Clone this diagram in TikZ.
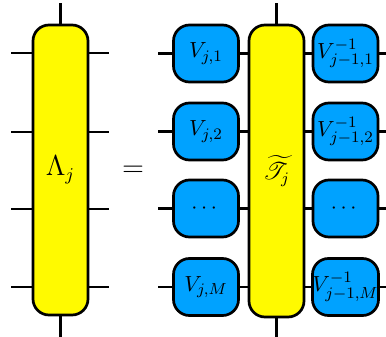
\documentclass[tikz,border=0pt]{standalone}
\usepackage{amsmath}
\usepackage{mathrsfs}
\definecolor{tyellow}{RGB}{255,250,0}
\definecolor{tblue}{RGB}{0,162,255}
\begin{document}
\begin{tikzpicture}[x=0.5pt,y=-0.5pt,
  every node/.style={font=\fontsize{11}{13}\selectfont},
  leg/.style={line width=1.35pt},
  bigbox/.style={draw,line width=1.35pt,fill=tyellow,rounded corners=8pt,minimum width=27.5pt,minimum height=145pt,inner sep=0pt},
  vbox/.style={draw,line width=1.35pt,fill=tblue,rounded corners=8pt,minimum width=32.5pt,minimum height=28.5pt,inner sep=0pt}]
\useasboundingbox (0,0) rectangle (386,337);
% left tensor
\node[bigbox,font=\fontsize{13.5}{15}\selectfont] (L) at (60.5,170) {$\Lambda_j$};
\coordinate (Lt) at (60.5,3);
\coordinate (Lb) at (60.5,337);
\draw[leg] (Lt) -- (L.north);
\draw[leg] (L.south) -- (Lb);
\foreach \y [count=\i] in {53,132,209,287}{
  \coordinate (La\i) at (11,\y);
  \coordinate (Lc\i) at (109,\y);
  \draw[leg] (La\i) -- (L.west |- La\i);
  \draw[leg] (L.east |- Lc\i) -- (Lc\i);
}
\node[font=\fontsize{14}{16}\selectfont] (eq) at (133,171) {$=$};
% right side
\node[bigbox,minimum height=146pt,font=\fontsize{12}{14}\selectfont] (T) at (276.5,171) {$\widetilde{\mathscr{T}}_j$};
\coordinate (Tt) at (276.5,3);
\coordinate (Tb) at (276.5,337);
\draw[leg] (Tt) -- (T.north);
\draw[leg] (T.south) -- (Tb);
\node[vbox] (A1) at (206,53.5) {$V_{j,1}$};
\node[vbox] (A2) at (206,131.5) {$V_{j,2}$};
\node[vbox] (A3) at (206,208.5) {$\cdots$};
\node[vbox] (A4) at (206,287) {$V_{j,M}$};
\node[vbox] (B1) at (345.5,53.5) {$V^{-1}_{j-1,1}$};
\node[vbox] (B2) at (345.5,131.5) {$V^{-1}_{j-1,2}$};
\node[vbox] (B3) at (345.5,208.5) {$\cdots$};
\node[vbox] (B4) at (345.5,287) {$V^{-1}_{j-1,M}$};
\foreach \i in {1,2,3,4}{
  \coordinate (Aa\i) at (158,0 |- A\i);
  \coordinate (Bb\i) at (386,0 |- B\i);
  \draw[leg] (Aa\i) -- (A\i.west);
  \draw[leg] (A\i.east) -- (T.west |- A\i);
  \draw[leg] (T.east |- B\i) -- (B\i.west);
  \draw[leg] (B\i.east) -- (Bb\i);
}
\end{tikzpicture}
\end{document}
